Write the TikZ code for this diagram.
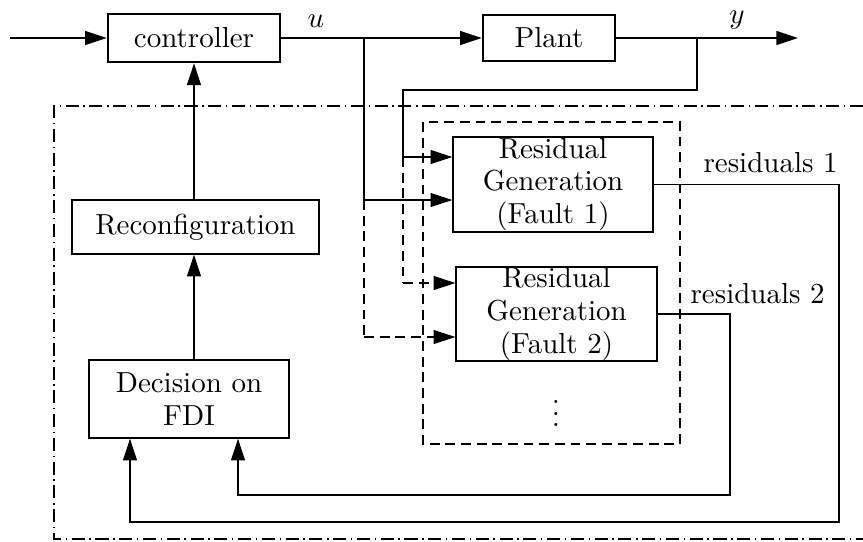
\documentclass[tikz,border=0pt]{standalone}
\usetikzlibrary{arrows.meta}
\begin{document}
\begin{tikzpicture}[x=0.345pt,y=-0.345pt,
  blk/.style={draw, line width=0.45pt, inner sep=0pt, align=center, font=\fontsize{10}{11.3}\selectfont},
  thickblk/.style={blk, line width=0.9pt},
  sig/.style={line width=0.65pt},
  ln/.style={line width=0.45pt},
  arr/.style={-{Triangle[length=7.5pt,width=4.8pt]}},
  dsh/.style={dash pattern=on 3.4pt off 2pt},
  dshdot/.style={line width=0.45pt, dash pattern=on 4.5pt off 1.6pt on 0.5pt off 1.6pt},
  lbl/.style={inner sep=0pt, font=\fontsize{10}{12}\selectfont}]
\useasboundingbox (0,0) rectangle (863,541);

% frames
\draw[dshdot] (863,106) -- (54,106) -- (54,539) -- (863,539);
\draw[ln,dsh] (423,122) rectangle (680,444);

% blocks
\node[thickblk, minimum width=59.3pt, minimum height=16.6pt] (ctrl) at (194,38) {controller};
\node[thickblk, minimum width=45.5pt, minimum height=15.9pt] (plant) at (549,38) {Plant};
\node[blk, minimum width=69pt, minimum height=32.8pt] (box1) at (553,184.5) {Residual\\Generation\\(Fault 1)};
\node[blk, minimum width=69.3pt, minimum height=32.4pt] (box2) at (556.5,314) {Residual\\Generation\\(Fault 2)};
\node[blk, minimum width=85.2pt, minimum height=18.6pt] (rec) at (195.5,227) {Reconfiguration};
\node[blk, minimum width=69pt, minimum height=26.9pt] (dec) at (189,399) {Decision on\\FDI};
\node[lbl] (dots) at (556,405) {$\vdots$};

% labels
\node[lbl] (ulab) at (316,21) {$u$};
\node[lbl] (ylab) at (737,20) {$y$};
\node[lbl, anchor=base west] (res1) at (703,172) {residuals 1};
\node[lbl, anchor=base west] (res2) at (690,303) {residuals 2};

% coordinates
\coordinate (in) at (10,38);
\coordinate (out) at (798,38);
\coordinate (ubr) at (364,38);
\coordinate (ybr) at (697,38);
\coordinate (ytop) at (403,90);
\coordinate (ya) at (403,157);
\coordinate (ua) at (364,200);
\coordinate (yb) at (403,283);
\coordinate (ub) at (364,337);
\coordinate (r1) at (839,522);
\coordinate (r2) at (730,495);
\coordinate (d1) at (130,522);
\coordinate (d2) at (238,495);

% main loop
\draw[sig,arr] (in) -- (ctrl.west);
\draw[sig,arr] (ctrl.east) -- (plant.west);
\draw[sig,arr] (plant.east) -- (out);

% u branch
\draw[ln] (ubr) -- (ua);
\draw[ln,arr] (ua) -- (ua -| box1.west);
\draw[ln,dsh] (ua) -- (ub);
\draw[ln,dsh,arr] (ub) -- (ub -| box2.west);

% y branch
\draw[ln] (ybr) |- (ytop) -- (ya);
\draw[ln,arr] (ya) -- (ya -| box1.west);
\draw[ln,dsh] (ya) -- (yb);
\draw[ln,dsh,arr] (yb) -- (yb -| box2.west);

% residuals
\draw[ln,arr] (box1.east) -| (r1) -- (d1) -- (d1 |- dec.south);
\draw[ln,arr] (box2.east) -| (r2) -- (d2) -- (d2 |- dec.south);

% decision chain
\draw[ln,arr] (ctrl.south |- dec.north) -- (ctrl.south |- rec.south);
\draw[ln,arr] (ctrl.south |- rec.north) -- (ctrl.south);
\end{tikzpicture}
\end{document}
